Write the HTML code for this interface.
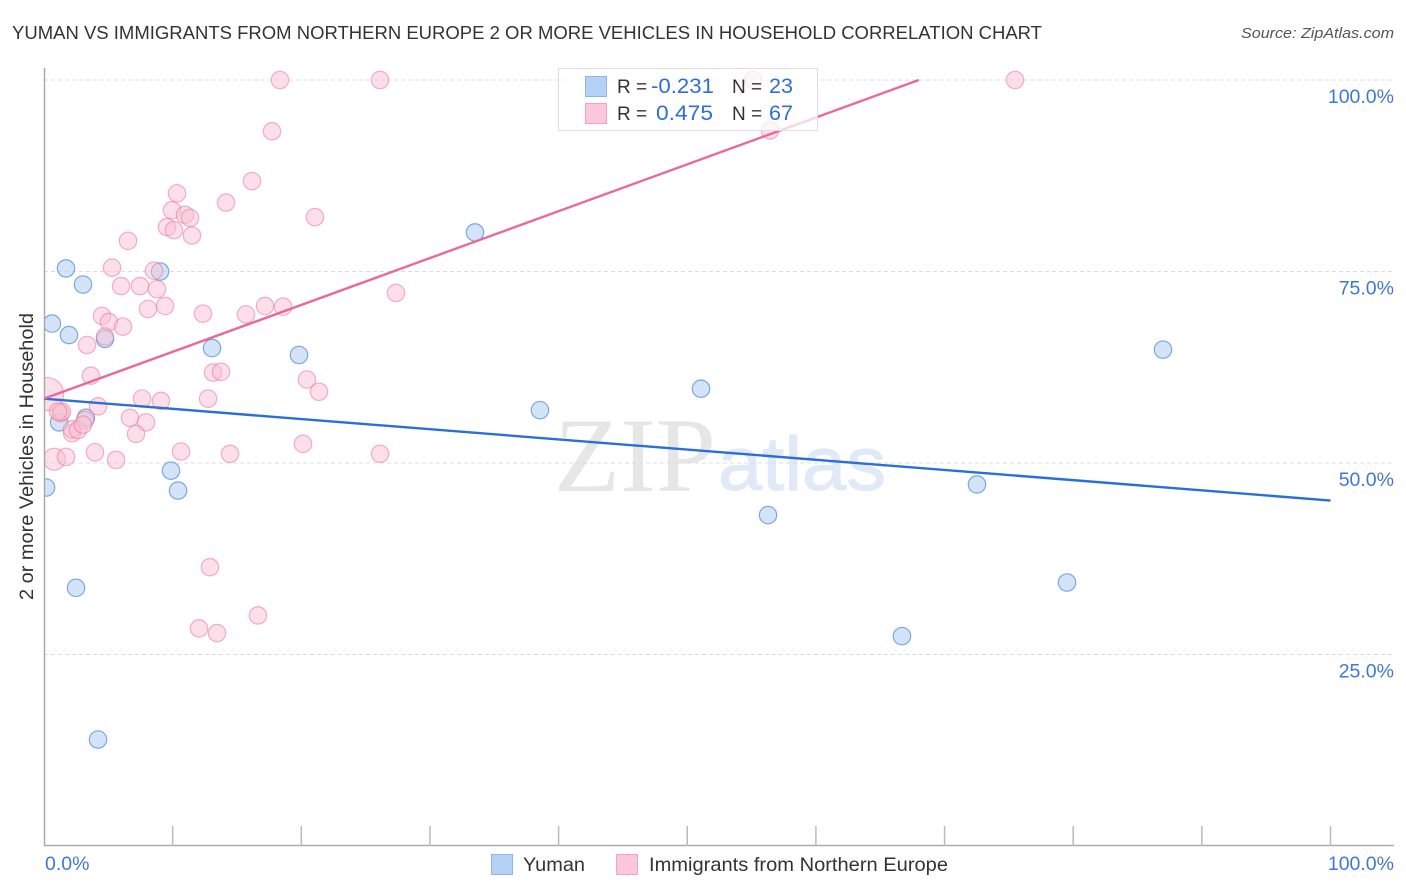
<!DOCTYPE html>
<html lang="en">
<head>
<meta charset="utf-8">
<title>Yuman vs Immigrants from Northern Europe correlation chart</title>
<style>
html,body{margin:0;padding:0;background:#fff;width:1406px;height:892px;overflow:hidden}
svg{display:block;font-family:"Liberation Sans",sans-serif}
</style>
</head>
<body>
<svg id="chart" xmlns="http://www.w3.org/2000/svg" width="1406" height="892" viewBox="0 0 1406 892">
  <rect width="1406" height="892" fill="#fff"/>
  <text x="12" y="39" font-size="18.5" fill="#333" textLength="1030" lengthAdjust="spacingAndGlyphs">YUMAN VS IMMIGRANTS FROM NORTHERN EUROPE 2 OR MORE VEHICLES IN HOUSEHOLD CORRELATION CHART</text>
  <text x="1241" y="38" font-size="15" font-style="italic" fill="#555" textLength="153" lengthAdjust="spacingAndGlyphs">Source: ZipAtlas.com</text>
  <g id="watermark">
    <text x="554" y="491" font-family="'Liberation Serif',serif" font-size="106" fill="#e6e6e6" textLength="162" lengthAdjust="spacingAndGlyphs">ZIP</text>
    <text x="718" y="490" font-size="76" fill="#dfe9f7" stroke="#dfe9f7" stroke-width="1" textLength="168" lengthAdjust="spacingAndGlyphs">atlas</text>
  </g>
  <g id="grid"></g>
  <g id="points"></g>
  <rect x="0" y="60" width="44.5" height="786" fill="#fff"/>
  <g id="axes"></g>
  <g id="trends"></g>
  <g id="top-legend">
    <rect x="558.5" y="68.5" width="259" height="62" fill="#fff" fill-opacity="0.72" stroke="#ddd" stroke-width="1"/>
    <rect x="585.5" y="76.5" width="21" height="20" fill="#b5d1f5" stroke="#8fb4e6"/>
    <rect x="585.5" y="103.5" width="21" height="20" fill="#fbc8d9" stroke="#f0a4be"/>
    <text x="617" y="93" font-size="19" fill="#333">R =</text>
    <text x="651" y="93" font-size="21" fill="#2f6fd0" textLength="63" lengthAdjust="spacingAndGlyphs">-0.231</text>
    <text x="732" y="93" font-size="19" fill="#333">N =</text>
    <text x="769" y="93" font-size="21" fill="#2f6fd0" textLength="24" lengthAdjust="spacingAndGlyphs">23</text>
    <text x="617" y="120" font-size="19" fill="#333">R =</text>
    <text x="656" y="120" font-size="21" fill="#2f6fd0" textLength="57" lengthAdjust="spacingAndGlyphs">0.475</text>
    <text x="732" y="120" font-size="19" fill="#333">N =</text>
    <text x="769" y="120" font-size="21" fill="#2f6fd0" textLength="24" lengthAdjust="spacingAndGlyphs">67</text>
  </g>
  <text transform="translate(33,600) rotate(-90)" font-size="19" fill="#333" textLength="287" lengthAdjust="spacingAndGlyphs">2 or more Vehicles in Household</text>
  <g id="bottom-legend">
    <rect x="491.5" y="854.5" width="21" height="20" fill="#b5d1f5" stroke="#8fb4e6"/>
    <text x="523" y="871" font-size="19.5" fill="#333" textLength="62" lengthAdjust="spacingAndGlyphs">Yuman</text>
    <rect x="616.5" y="854.5" width="21" height="20" fill="#fbc8d9" stroke="#f0a4be"/>
    <text x="649" y="871" font-size="19.5" fill="#333" textLength="299" lengthAdjust="spacingAndGlyphs">Immigrants from Northern Europe</text>
  </g>
</svg>
<script>
const yTickValues = [25, 50, 75, 100];
const yTickLabels = ["25.0%", "50.0%", "75.0%", "100.0%"];
const xTickValues = [0, 10, 20, 30, 40, 50, 60, 70, 80, 90, 100];
const xEndLabels = ["0.0%", "100.0%"];

const blueX = [0.16,1.71,3.03,0.62,1.94,4.74,1.17,3.26,9.02,13.06,19.82,9.87,10.42,33.5,38.55,51.07,56.28,72.52,86.98,79.52,66.69,2.49,4.2];
const blueY = [46.8,75.4,73.3,68.2,66.7,66.2,55.3,55.9,75.0,65.0,64.1,49.0,46.4,80.1,56.9,59.7,43.2,47.2,64.8,34.4,27.4,33.7,13.9];

const pinkX = [18.34,26.12,55.11,75.48,17.72,56.43,16.17,10.34,14.15,9.95,10.96,11.35,21.06,9.56,10.1,11.5,6.53,5.29,8.55,5.99,7.46,8.78,9.41,8.08,12.36,15.7,17.18,18.58,27.36,4.51,5.05,6.14,4.74,3.34,3.65,13.14,13.76,20.44,21.38,7.62,9.09,12.75,0.25,4.2,6.68,7.93,7.15,1.28,1.4,2.18,2.18,2.64,3.19,3.96,5.6,0.8,1.71,10.65,14.46,20.13,26.12,12.9,12.05,13.45,16.63,3.03,1.09];
const pinkY = [100,100,100,100,93.3,93.4,86.8,85.2,84.0,83.0,82.4,82.0,82.1,80.8,80.4,79.7,79.0,75.5,75.1,73.1,73.1,72.7,70.5,70.1,69.5,69.4,70.5,70.4,72.2,69.2,68.4,67.8,66.5,65.4,61.4,61.8,61.9,60.9,59.3,58.4,58.1,58.4,59.0,57.4,55.9,55.3,53.8,56.5,56.7,53.9,54.4,54.3,55.6,51.4,50.4,50.5,50.8,51.5,51.2,52.5,51.2,36.4,28.4,27.8,30.1,55.0,56.7];
const pinkWeight = [1,1,1,1,1,1,1,1,1,1,1,1,1,1,1,1,1,1,1,1,1,1,1,1,1,1,1,1,1,1,1,1,1,1,1,1,1,1,1,1,1,1,3.6,1,1,1,1,1,1,1,1,1,1,1,1,1.6,1,1,1,1,1,1,1,1,1,1,1];

const blueTrendX = [0, 100];
const blueTrendY = [58.4, 45.1];
const pinkTrendX = [0, 68];
const pinkTrendY = [58.4, 100];

const NS = "http://www.w3.org/2000/svg";
const sx = v => 44 + v * 12.865;
const sy = v => 846 - v * 7.66;
const node = (parent, tag, attrs) => {
  const el = document.createElementNS(NS, tag);
  for (const k in attrs) el.setAttribute(k, attrs[k]);
  parent.appendChild(el);
  return el;
};

const grid = document.getElementById("grid");
const axes = document.getElementById("axes");
yTickValues.forEach((v, i) => {
  const line = node(grid, "line", {x1: 44, x2: 1394, y1: sy(v), y2: sy(v), stroke: "#dcdcdc", "stroke-width": 1, "stroke-dasharray": "4 3"});
  
  
  const label = node(axes, "text", {x: 1394, y: sy(v) + 23, "text-anchor": "end", "font-size": 19.5, fill: "#3f78d4"});
  label.textContent = yTickLabels[i];
  
  
});

const yAxis = node(axes, "line", {x1: 44.5, x2: 44.5, y1: 68, y2: 846, stroke: "#aaa", "stroke-width": 1.5});


const xAxis = node(axes, "line", {x1: 44, x2: 1394, y1: 845.5, y2: 845.5, stroke: "#aaa", "stroke-width": 1.5});


xTickValues.forEach(v => {
  if (v === 0) return;
  const tick = node(axes, "line", {x1: sx(v), x2: sx(v), y1: 826, y2: 846, stroke: "#bbb", "stroke-width": 1.5});
  
  
});
const xStart = node(axes, "text", {x: 45, y: 870, "font-size": 19.5, fill: "#3f78d4"});
xStart.textContent = xEndLabels[0];


const xEnd = node(axes, "text", {x: 1394, y: 870, "text-anchor": "end", "font-size": 19.5, fill: "#3f78d4"});
xEnd.textContent = xEndLabels[1];



const points = document.getElementById("points");
blueX.forEach((x, i) => {
  const c = node(points, "circle", {cx: sx(x), cy: sy(blueY[i]), r: 8.7, fill: "#a9c9f2", "fill-opacity": 0.5, stroke: "#3f80d8", "stroke-opacity": 0.65, "stroke-width": 1.2});
  
  
});
pinkX.forEach((x, i) => {
  const c = node(points, "circle", {cx: sx(x), cy: sy(pinkY[i]), r: 8.7 * Math.sqrt(pinkWeight[i]), fill: "#f9bfd2", "fill-opacity": 0.5, stroke: "#e8749c", "stroke-opacity": 0.55, "stroke-width": 1.2});
  
  
});

const trends = document.getElementById("trends");
const blueLine = node(trends, "line", {x1: sx(blueTrendX[0]), y1: sy(blueTrendY[0]), x2: sx(blueTrendX[1]), y2: sy(blueTrendY[1]), stroke: "#2a6fd6", "stroke-width": 2.4});


const pinkLine = node(trends, "line", {x1: sx(pinkTrendX[0]), y1: sy(pinkTrendY[0]), x2: sx(pinkTrendX[1]), y2: sy(pinkTrendY[1]), stroke: "#e9699a", "stroke-width": 2.4});


</script>
</body>
</html>
